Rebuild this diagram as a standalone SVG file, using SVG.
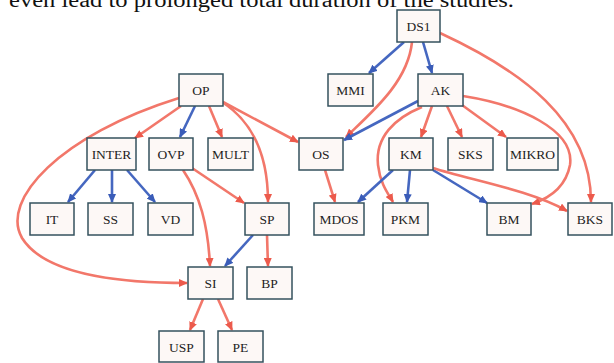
<svg xmlns="http://www.w3.org/2000/svg" width="614" height="363" viewBox="0 0 614 363">
<style>
.n rect{fill:#fdf8f6;stroke:#34525e;stroke-width:1.5}
.n text{font-family:"Liberation Serif",serif;font-size:13.5px;fill:#1e1e1e;text-anchor:middle;dominant-baseline:central}
.r{fill:none;stroke:#f2776a;stroke-width:2.6;marker-end:url(#ar)}
.b{fill:none;stroke:#4567c0;stroke-width:2.6;marker-end:url(#ab)}
.title{font-family:"Liberation Serif",serif;font-size:20px;fill:#111}
</style>
<defs>
<marker id="ar" markerUnits="userSpaceOnUse" markerWidth="9" markerHeight="8" refX="8" refY="4" orient="auto"><path d="M0,0 L9,4 L0,8 z" fill="#ec5a4c"/></marker>
<marker id="ab" markerUnits="userSpaceOnUse" markerWidth="9" markerHeight="8" refX="8" refY="4" orient="auto"><path d="M0,0 L9,4 L0,8 z" fill="#3a5cb8"/></marker>
</defs>
<rect width="614" height="363" fill="#ffffff"/>
<text class="title" x="9" y="7" textLength="505" lengthAdjust="spacingAndGlyphs">even lead to prolonged total duration of the studies.</text>
<g id="edges">
<path class="b" d="M404,42 L369,73"/>
<path class="b" d="M423,42 L432,73"/>
<path class="r" d="M412,42 C408,82 372,112 346,137"/>
<path class="r" d="M440,33 C520,70 591,120 591,202"/>
<path class="b" d="M418,101 L344,140"/>
<path class="r" d="M422,107 C395,118 375,137 378,165 C380,184 389,195 393,202"/>
<path class="r" d="M432,106 L421,137"/>
<path class="r" d="M447,106 L462,137"/>
<path class="r" d="M462,105 L506,137"/>
<path class="r" d="M463,96 C520,105 575,130 570,165 C566,186 550,198 532,204"/>
<path class="b" d="M393,170 L358,202"/>
<path class="b" d="M410,170 L407,202"/>
<path class="b" d="M433,170 L487,203"/>
<path class="r" d="M433,168 C470,180 530,190 567,211"/>
<path class="r" d="M325,170 L335,202"/>
<path class="r" d="M181,106 L135,138"/>
<path class="b" d="M195,106 L180,137"/>
<path class="r" d="M209,106 L222,137"/>
<path class="r" d="M223,102 L298,142"/>
<path class="r" d="M222,102 C250,120 268,150 268,202"/>
<path class="r" d="M179,98 C60,135 0,200 22,238 C45,275 120,283 187,283"/>
<path class="b" d="M95,170 L68,202"/>
<path class="b" d="M112,170 L112,202"/>
<path class="b" d="M127,170 L155,202"/>
<path class="r" d="M192,168 L244,203"/>
<path class="r" d="M183,170 C200,195 208,225 210,266"/>
<path class="b" d="M253,235 L225,266"/>
<path class="r" d="M267,235 L268,266"/>
<path class="r" d="M203,299 L190,330"/>
<path class="r" d="M218,299 L232,330"/>
</g>
<g id="DS1" class="n"><rect x="397" y="10" width="43" height="32"/><text x="418.5" y="26">DS1</text></g>
<g id="MMI" class="n"><rect x="328" y="74" width="45" height="32"/><text x="350.5" y="90">MMI</text></g>
<g id="AK" class="n"><rect x="418" y="74" width="45" height="32"/><text x="440.5" y="90">AK</text></g>
<g id="OP" class="n"><rect x="179" y="74" width="44" height="32"/><text x="201" y="90">OP</text></g>
<g id="INTER" class="n"><rect x="87" y="138" width="49" height="32"/><text x="111.5" y="154">INTER</text></g>
<g id="OVP" class="n"><rect x="149" y="138" width="44" height="32"/><text x="171" y="154">OVP</text></g>
<g id="MULT" class="n"><rect x="208" y="138" width="45" height="32"/><text x="230.5" y="154">MULT</text></g>
<g id="OS" class="n"><rect x="299" y="138" width="44" height="32"/><text x="321" y="154">OS</text></g>
<g id="KM" class="n"><rect x="389" y="138" width="44" height="32"/><text x="411" y="154">KM</text></g>
<g id="SKS" class="n"><rect x="448" y="138" width="45" height="32"/><text x="470.5" y="154">SKS</text></g>
<g id="MIKRO" class="n"><rect x="507" y="138" width="51" height="32"/><text x="532.5" y="154">MIKRO</text></g>
<g id="IT" class="n"><rect x="30" y="203" width="44" height="32"/><text x="52" y="219">IT</text></g>
<g id="SS" class="n"><rect x="88" y="203" width="45" height="32"/><text x="110.5" y="219">SS</text></g>
<g id="VD" class="n"><rect x="148" y="203" width="45" height="32"/><text x="170.5" y="219">VD</text></g>
<g id="SP" class="n"><rect x="245" y="203" width="44" height="32"/><text x="267" y="219">SP</text></g>
<g id="MDOS" class="n"><rect x="314" y="203" width="50" height="32"/><text x="339" y="219">MDOS</text></g>
<g id="PKM" class="n"><rect x="383" y="203" width="45" height="32"/><text x="405.5" y="219">PKM</text></g>
<g id="BM" class="n"><rect x="487" y="203" width="44" height="32"/><text x="509" y="219">BM</text></g>
<g id="BKS" class="n"><rect x="568" y="203" width="44" height="32"/><text x="590" y="219">BKS</text></g>
<g id="SI" class="n"><rect x="188" y="267" width="45" height="32"/><text x="210.5" y="283">SI</text></g>
<g id="BP" class="n"><rect x="247" y="267" width="45" height="32"/><text x="269.5" y="283">BP</text></g>
<g id="USP" class="n"><rect x="159" y="331" width="45" height="31"/><text x="181.5" y="347">USP</text></g>
<g id="PE" class="n"><rect x="218" y="331" width="45" height="31"/><text x="240.5" y="347">PE</text></g>
</svg>
